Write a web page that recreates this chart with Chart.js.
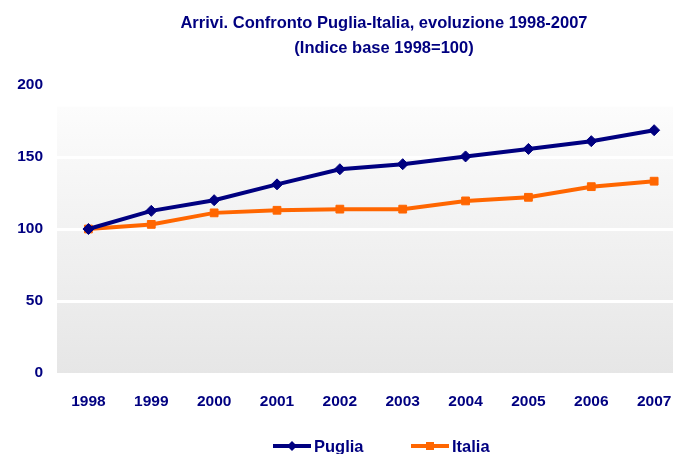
<!DOCTYPE html>
<html>
<head>
<meta charset="utf-8">
<script src="https://cdn.jsdelivr.net/npm/chart.js@4/dist/chart.umd.min.js"></script>
<style>
  html, body { margin: 0; padding: 0; background: #ffffff; overflow: hidden; }
  #wrap { width: 673px; height: 454px; }
</style>
</head>
<body>
<div id="wrap"><canvas id="c" width="673" height="454"></canvas></div>
<script>
// ---- data ----
const years = [1998, 1999, 2000, 2001, 2002, 2003, 2004, 2005, 2006, 2007];
const puglia = [100, 112.6, 120, 131, 141.5, 145, 150.4, 155.6, 161, 168.6];
const italia = [100, 103.2, 111.2, 113, 113.8, 113.8, 119.5, 122, 129.4, 133.2];
const yTicks = [0, 50, 100, 150, 200];
const titleLines = ["Arrivi. Confronto Puglia-Italia, evoluzione 1998-2007", "(Indice base 1998=100)"];
const seriesNames = ["Puglia", "Italia"];

const NAVY = '#000080';
const ORANGE = '#FF6600';
const FONT = '"Liberation Sans", Arial, sans-serif';

const bgPlugin = {
  id: 'bg',
  beforeDraw(chart) {
    const { ctx, chartArea } = chart;
    const ys = chart.scales.y;
    const top = ys.getPixelForValue(185);
    const g = ctx.createLinearGradient(0, top, 0, chartArea.bottom);
    g.addColorStop(0, '#fcfcfc');
    g.addColorStop(1, '#e6e6e6');
    ctx.save();
    ctx.fillStyle = g;
    ctx.fillRect(chartArea.left, top, chartArea.right - chartArea.left, chartArea.bottom - top);
    ctx.restore();
  }
};

function drawMarker(ctx, kind, x, y, color) {
  ctx.fillStyle = color;
  ctx.beginPath();
  if (kind === 'diamond') {
    ctx.moveTo(x, y - 5); ctx.lineTo(x + 5, y); ctx.lineTo(x, y + 5); ctx.lineTo(x - 5, y);
    ctx.closePath();
  } else {
    ctx.rect(x - 4, y - 4, 8, 8);
  }
  ctx.fill();
}

const textPlugin = {
  id: 'texts',
  afterDraw(chart) {
    const { ctx } = chart;
    ctx.save();
    // title
    ctx.fillStyle = NAVY;
    ctx.font = 'bold 16.5px ' + FONT;
    ctx.textAlign = 'center';
    ctx.textBaseline = 'alphabetic';
    ctx.fillText(titleLines[0], 384, 28);
    ctx.fillText(titleLines[1], 384, 53);
    // legend
    const items = [
      { name: seriesNames[0], color: NAVY, kind: 'diamond', x0: 273 },
      { name: seriesNames[1], color: ORANGE, kind: 'square', x0: 411 }
    ];
    const ly = 446;
    items.forEach(it => {
      ctx.strokeStyle = it.color;
      ctx.lineWidth = 4;
      ctx.beginPath();
      ctx.moveTo(it.x0, ly);
      ctx.lineTo(it.x0 + 38, ly);
      ctx.stroke();
      drawMarker(ctx, it.kind, it.x0 + 19, ly, it.color);
      ctx.fillStyle = NAVY;
      ctx.font = 'bold 16.5px ' + FONT;
      ctx.textAlign = 'left';
      ctx.textBaseline = 'middle';
      ctx.fillText(it.name, it.x0 + 41, ly + 1);
    });
    ctx.restore();
  }
};

new Chart(document.getElementById('c'), {
  type: 'line',
  data: {
    datasets: [
      {
        label: seriesNames[0],
        data: years.map((yr, i) => ({ x: yr, y: puglia[i] })),
        borderColor: NAVY,
        backgroundColor: NAVY,
        borderWidth: 4,
        pointStyle: 'rectRot',
        pointRadius: 5.5,
        pointBorderWidth: 1,
        pointBorderColor: NAVY,
        tension: 0
      },
      {
        label: seriesNames[1],
        data: years.map((yr, i) => ({ x: yr, y: italia[i] })),
        borderColor: ORANGE,
        backgroundColor: ORANGE,
        borderWidth: 4,
        pointStyle: 'rect',
        pointRadius: 5.5,
        pointBorderWidth: 1,
        pointBorderColor: ORANGE,
        tension: 0
      }
    ]
  },
  options: {
    responsive: false,
    animation: false,
    layout: { autoPadding: false, padding: { top: 85, left: 0, right: 0, bottom: 0 } },
    plugins: {
      legend: { display: false },
      title: { display: false },
      tooltip: { enabled: false }
    },
    scales: {
      x: {
        type: 'linear',
        min: 1997.5,
        max: 2007.3,
        afterBuildTicks(scale) { scale.ticks = years.map(v => ({ value: v })); },
        afterFit(scale) { scale.height = 81; scale.paddingLeft = 0; scale.paddingRight = 0; },
        grid: { display: false, drawTicks: false },
        border: { display: false },
        ticks: {
          padding: 19,
          color: NAVY,
          font: { family: FONT, size: 15.5, weight: 'bold' },
          callback: (v) => String(v),
          maxRotation: 0,
          autoSkip: false
        }
      },
      y: {
        min: 0,
        max: 200,
        afterBuildTicks(scale) { scale.ticks = yTicks.map(v => ({ value: v })); },
        afterFit(scale) { scale.width = 57; scale.paddingTop = 0; scale.paddingBottom = 0; },
        grid: {
          color: (c) => (c.tick && (c.tick.value === 0 || c.tick.value === 200)) ? 'rgba(0,0,0,0)' : '#ffffff',
          lineWidth: 3,
          drawTicks: false
        },
        border: { display: false },
        ticks: {
          padding: 14,
          color: NAVY,
          font: { family: FONT, size: 15.5, weight: 'bold' }
        }
      }
    }
  },
  plugins: [bgPlugin, textPlugin]
});
</script>
</body>
</html>
